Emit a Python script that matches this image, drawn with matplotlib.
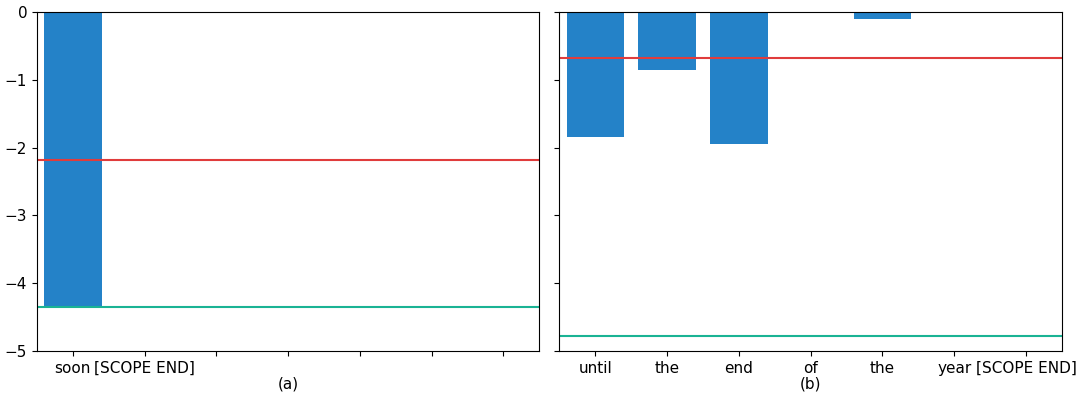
import matplotlib
matplotlib.use("Agg")
import matplotlib.pyplot as plt

# Panel (a)
tokens_a = ["soon", "[SCOPE END]", "", "", "", "", ""]
scores_a = [-4.35, 0, 0, 0, 0, 0, 0]
mean_a = -2.18
min_a = -4.35

# Panel (b)
tokens_b = ["until", "the", "end", "of", "the", "year", "[SCOPE END]"]
scores_b = [-1.85, -0.85, -1.94, 0, -0.11, 0, 0]
mean_b = -0.68
min_b = -4.78

bar_color = "#2482c8"
red = "#e03c3c"
green = "#1ab394"

plt.rcParams["font.size"] = 11

fig = plt.figure(figsize=(10.78, 3.94), dpi=100)
ax1 = fig.add_axes([0.0343, 0.109, 0.4660, 0.8605])
ax2 = fig.add_axes([0.5190, 0.109, 0.4660, 0.8605], sharey=ax1)

for ax, toks, vals, mu, lo, lab in [
    (ax1, tokens_a, scores_a, mean_a, min_a, "(a)"),
    (ax2, tokens_b, scores_b, mean_b, min_b, "(b)"),
]:
    x = list(range(len(toks)))
    ax.bar(x, vals, width=0.8, color=bar_color)
    ax.axhline(mu, color=red, lw=1.5)
    ax.axhline(lo, color=green, lw=1.5)
    ax.set_xticks(x)
    ax.set_xticklabels(toks)
    ax.set_xlim(-0.5, len(toks) - 0.5)
    ax.set_xlabel(lab, labelpad=0.5)

ax1.set_ylim(-5, 0)
ax1.set_yticks([0, -1, -2, -3, -4, -5])
plt.setp(ax2.get_yticklabels(), visible=False)

fig.savefig("out.png", dpi=100)
